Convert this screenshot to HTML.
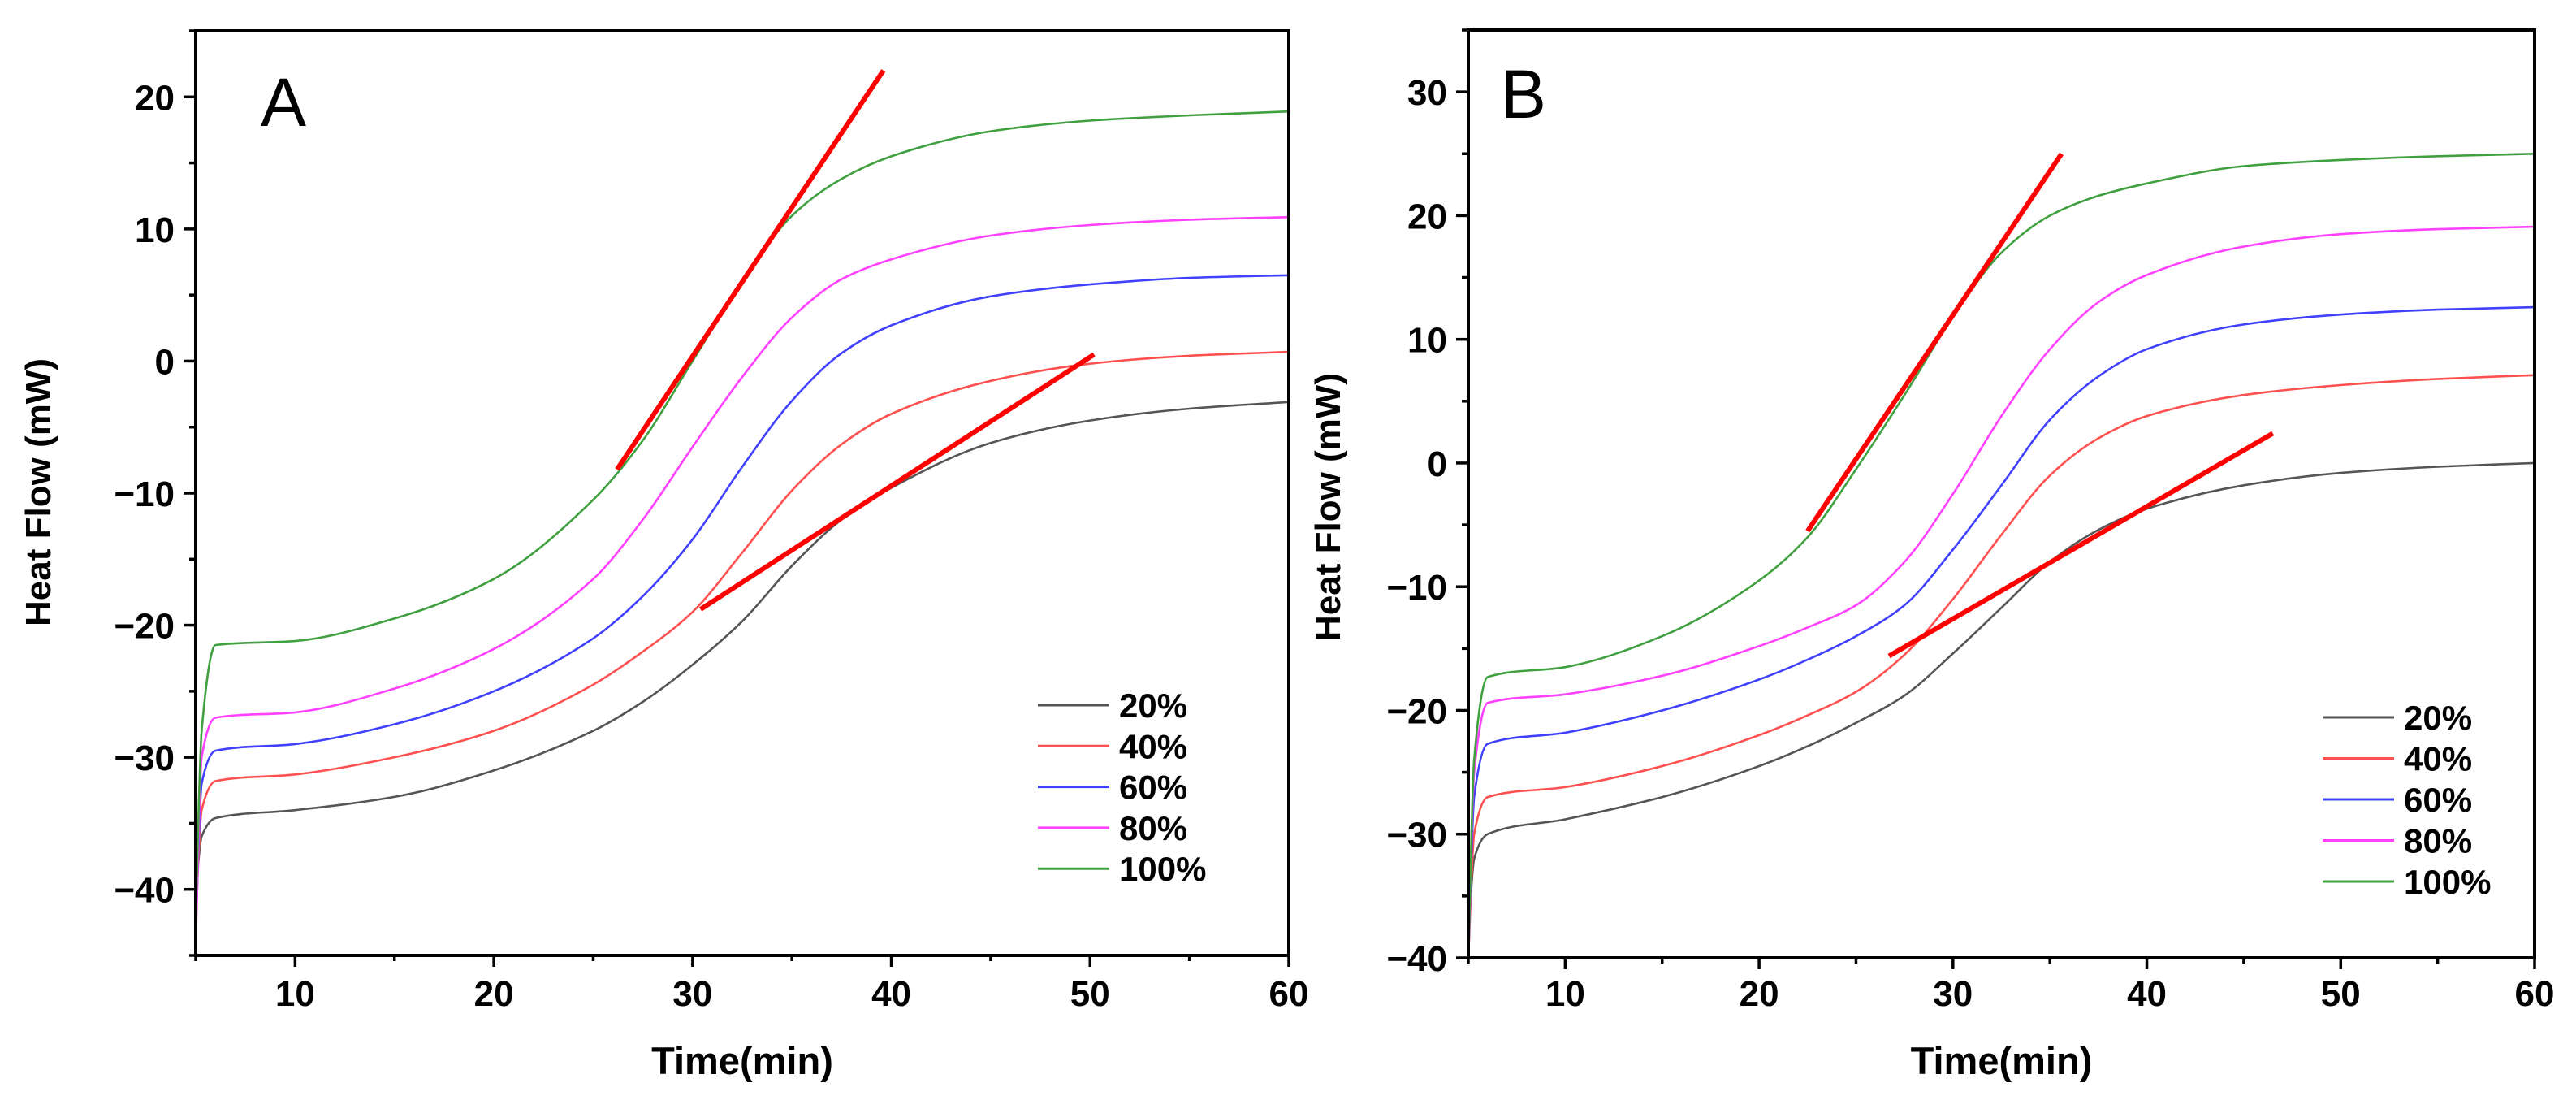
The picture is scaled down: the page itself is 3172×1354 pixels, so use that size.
<!DOCTYPE html>
<html><head><meta charset="utf-8"><style>
html,body{margin:0;padding:0;background:#fff;}
svg{display:block;}
text{font-family:"Liberation Sans",Arial,sans-serif;}
</style></head><body>
<svg id="fig" width="3172" height="1354" viewBox="0 0 3172 1354" xmlns="http://www.w3.org/2000/svg">
<rect width="3172" height="1354" fill="#fff"/>
</svg>
<script>
// ---- data ----
const seriesNames = ["20%","40%","60%","80%","100%"];
const seriesColors = ["#555555","#ff5050","#4040ff","#ff40ff","#40a040"];
const timesA = [5,5.3,6,10,15,20,25,27.5,30,32.5,35,37.5,40,45,50,55,60];
const a20  = [-40,-36,-34.6,-34,-33,-31,-28,-25.8,-23,-19.7,-15.5,-12,-9.6,-6.2,-4.5,-3.6,-3.1];
const a40  = [-42,-34,-31.8,-31.3,-30,-28,-24.5,-22,-19,-14.5,-9.8,-6.3,-4,-1.5,-0.2,0.4,0.7];
const a60  = [-43,-32,-29.5,-29,-27.5,-25,-21,-17.8,-13.5,-8,-3,0.6,2.7,4.9,5.8,6.3,6.5];
const a80  = [-44,-30,-27,-26.6,-24.8,-21.8,-16.5,-12,-6.5,-1.2,3.3,6.2,7.7,9.5,10.3,10.7,10.9];
const a100 = [-42,-28,-21.5,-21.2,-19.5,-16.5,-10.5,-6,0,6,11,13.8,15.5,17.4,18.2,18.6,18.9];
const tangentA1 = [[26.2,-8.2],[39.6,22]];
const tangentA2 = [[30.4,-18.8],[50.2,0.5]];
const timesB = [5,5.3,6,10,15,20,22.5,25,27.5,30,32.5,35,37.5,40,45,50,55,60];
const b20  = [-38,-32,-30,-28.8,-27,-24.5,-22.9,-21,-18.8,-15.4,-11.7,-8,-5.4,-3.7,-1.8,-0.8,-0.3,0];
const b40  = [-40,-30,-27,-26.2,-24.5,-22,-20.4,-18.5,-15.5,-11,-5.8,-1,2,3.8,5.5,6.3,6.8,7.1];
const b60  = [-40,-27,-22.7,-21.8,-20,-17.5,-15.9,-14,-11.5,-7,-1.8,3.5,7,9.2,11.2,12,12.4,12.6];
const b80  = [-40,-25,-19.4,-18.7,-17.2,-14.8,-13.3,-11.5,-8,-2.5,3.8,9.2,13,15.2,17.5,18.5,18.9,19.1];
const b100 = [-40,-24,-17.3,-16.5,-14,-9.5,-6,-0.5,5.5,11.8,17,20,21.6,22.6,24,24.5,24.8,25];
const tangentB1 = [[22.5,-5.5],[35.6,25]];
const tangentB2 = [[26.7,-15.6],[46.5,2.4]];
const xTicks = [10,20,30,40,50,60];
const yTicksA = [-40,-30,-20,-10,0,10,20];
const yTicksB = [-40,-30,-20,-10,0,10,20,30];

const NS="http://www.w3.org/2000/svg";
const svg=document.getElementById('fig');
function mk(tag,attrs,parent){const e=document.createElementNS(NS,tag);for(const k in attrs)e.setAttribute(k,attrs[k]);(parent||svg).appendChild(e);return e;}

// monotone cubic (Fritsch-Carlson) path
function smoothPath(pts){
  const n=pts.length, dx=[], s=[], m=[];
  for(let i=0;i<n-1;i++){dx.push(pts[i+1][0]-pts[i][0]);s.push((pts[i+1][1]-pts[i][1])/dx[i]);}
  m[0]=s[0]; m[n-1]=s[n-2];
  for(let i=1;i<n-1;i++){
    if(s[i-1]*s[i]<=0) m[i]=0;
    else m[i]=3*(dx[i-1]+dx[i])/((2*dx[i]+dx[i-1])/s[i-1]+(dx[i]+2*dx[i-1])/s[i]);
  }
  let d="M"+pts[0][0].toFixed(1)+","+pts[0][1].toFixed(1);
  for(let i=0;i<n-1;i++){
    const h=dx[i]/3;
    d+=" C"+(pts[i][0]+h).toFixed(1)+","+(pts[i][1]+m[i]*h).toFixed(1)+" "+(pts[i+1][0]-h).toFixed(1)+","+(pts[i+1][1]-m[i+1]*h).toFixed(1)+" "+pts[i+1][0].toFixed(1)+","+pts[i+1][1].toFixed(1);
  }
  return d;
}

function panel(cfg){
  const g=mk('g',{});
  
  
  const X=v=>cfg.L+(v-5)/55*(cfg.R-cfg.L);
  const Y=v=>cfg.B-(v-cfg.ymin)/(cfg.ymax-cfg.ymin)*(cfg.B-cfg.T);
  const clipId='clip'+cfg.id;
  const cp=mk('clipPath',{id:clipId},g);mk('rect',{x:cfg.L,y:cfg.T,width:cfg.R-cfg.L,height:cfg.B-cfg.T},cp);
  cfg.series.forEach((vals,i)=>{
    const pts=cfg.times.map((t,j)=>[X(t),Y(vals[j])]);
    const p=mk('path',{d:smoothPath(pts),fill:'none',stroke:seriesColors[i],'stroke-width':2.6,'clip-path':'url(#'+clipId+')'},g);
    
    
  });
  cfg.tangents.forEach((tg,i)=>{
    const l=mk('line',{x1:X(tg[0][0]),y1:Y(tg[0][1]),x2:X(tg[1][0]),y2:Y(tg[1][1]),stroke:'#ff0000','stroke-width':6},g);
    
    
  });
  const fr=mk('rect',{x:cfg.L,y:cfg.T,width:cfg.R-cfg.L,height:cfg.B-cfg.T,fill:'none',stroke:'#000','stroke-width':4},g);
  
  
  for(let v=5;v<=60;v+=5){
    const major=xTicks.includes(v);
    mk('line',{x1:X(v),x2:X(v),y1:cfg.B,y2:cfg.B+(major?14:7),stroke:'#000','stroke-width':3.5},g);
  }
  xTicks.forEach(v=>{
    const t=mk('text',{x:X(v),y:1238,'font-size':44,'font-weight':'bold','text-anchor':'middle'},g);
    t.textContent=v;
    
    
  });
  for(let v=Math.ceil(cfg.ymin/5)*5;v<=cfg.ymax;v+=5){
    const major=cfg.yTicks.includes(v);
    mk('line',{x1:cfg.L,x2:cfg.L-(major?15:8),y1:Y(v),y2:Y(v),stroke:'#000','stroke-width':3.5},g);
  }
  cfg.yTicks.forEach(v=>{
    const t=mk('text',{x:cfg.L-26,y:Y(v)+16,'font-size':44,'font-weight':'bold','text-anchor':'end'},g);
    t.textContent=v<0?'\u2212'+(-v):String(v);
    
    
  });
  const xt=mk('text',{x:(cfg.L+cfg.R)/2,y:1322,'font-size':47,'font-weight':'bold','text-anchor':'middle'},g);
  xt.textContent='Time(min)';
  
  
  const yt=mk('text',{x:0,y:0,'font-size':44,'font-weight':'bold','text-anchor':'middle',transform:'translate('+cfg.ytx+','+cfg.yty+') rotate(-90)'},g);
  yt.textContent='Heat Flow (mW)';
  
  
  const pl=mk('text',{x:cfg.lx,y:cfg.ly,'font-size':84,'text-anchor':'middle'},g);
  pl.textContent=cfg.id;
  
  
  const lg=mk('g',{},g);
  
  
  seriesNames.forEach((n,i)=>{
    const y=cfg.legY+i*cfg.legDy;
    const e=mk('g',{},lg);
    
    
    mk('line',{x1:cfg.legX,x2:cfg.legX+88,y1:y,y2:y,stroke:seriesColors[i],'stroke-width':3},e);
    const t=mk('text',{x:cfg.legX+100,y:y+15,'font-size':42,'font-weight':'bold'},e);
    t.textContent=n;
  });
}

panel({id:'A',L:241,R:1587,T:38,B:1176,ymin:-45,ymax:25,yTicks:yTicksA,times:timesA,
  series:[a20,a40,a60,a80,a100],tangents:[tangentA1,tangentA2],
  ytx:62,yty:606,lx:349,ly:155,legX:1278,legY:868,legDy:50.3});
panel({id:'B',L:1808,R:3121,T:37,B:1179,ymin:-40,ymax:35,yTicks:yTicksB,times:timesB,
  series:[b20,b40,b60,b80,b100],tangents:[tangentB1,tangentB2],
  ytx:1650,yty:624,lx:1876,ly:145,legX:2860,legY:883,legDy:50.5});
</script>
</body></html>
